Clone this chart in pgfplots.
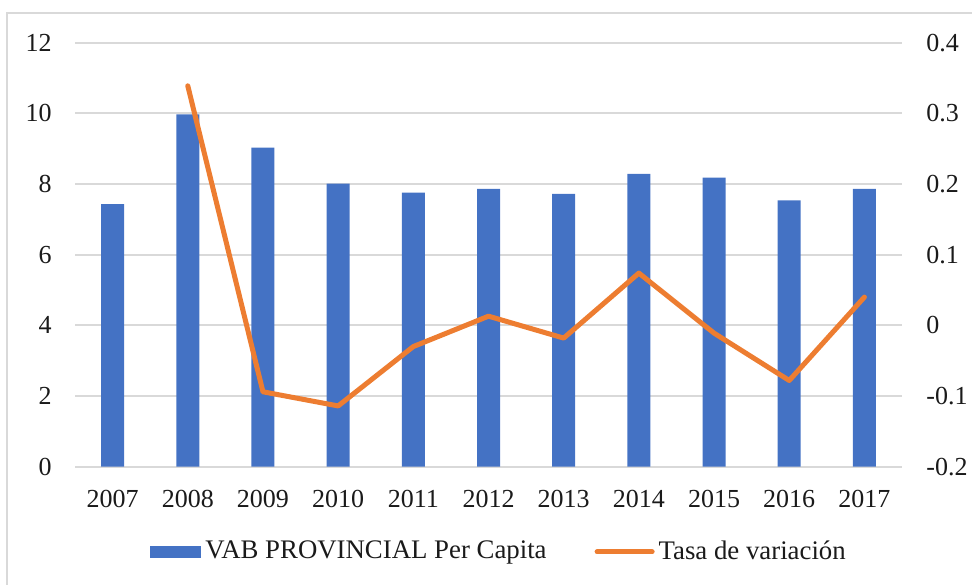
\documentclass[border=0pt]{standalone}
\usepackage{fontspec}
\setmainfont{Liberation Serif}
\usepackage{pgfplots}
\pgfplotsset{compat=1.18}
\definecolor{barblue}{HTML}{4472C4}
\definecolor{lineorange}{HTML}{ED7D31}
\definecolor{gridgray}{HTML}{D9D9D9}
\definecolor{txt}{HTML}{1A1A1A}

\begin{document}
\fontsize{13}{15}\selectfont
\begin{tikzpicture}[x=1pt,y=1pt]
\useasboundingbox (0,0) rectangle (486,292);
\draw[gridgray, line width=1pt] (3.5,-5) -- (3.5,285.5) -- (490,285.5);

\pgfplotsset{
  base/.style={
    at={(37.5pt,58.65pt)}, anchor=south west,
    scale only axis, width=413.5pt, height=212pt,
    xmin=-0.5, xmax=10.5,
    axis line style={draw=none},
    major tick length=0pt,
    tick style={draw=none},
    tick label style={font=\fontsize{13}{15}\selectfont, text=txt},
  }
}

% left axis: bars
\begin{axis}[base,
  ymin=0, ymax=12,
  ytick={0,2,4,6,8,10,12},
  yticklabels={0,2,4,6,8,10,12},
  yticklabel style={xshift=-7.2pt},
  xtick={0,...,10},
  xticklabels={2007,2008,2009,2010,2011,2012,2013,2014,2015,2016,2017},
  xticklabel style={yshift=-7pt},
  ymajorgrids,
  grid style={gridgray, line width=0.9pt},
  legend style={at={(0.514,-0.201)}, anchor=center, draw=none, fill=none,
    legend columns=2, font=\fontsize{13.4}{15}\selectfont, text=txt,
    /tikz/every even column/.append style={column sep=22pt}},
  legend cell align=left,
]
\addplot[ybar, bar width=11.5pt, fill=barblue, draw=none,
  legend image code/.code={\fill[barblue] (0pt,-3pt) rectangle (25.5pt,3pt);}]
  coordinates {(0,7.43) (1,9.97) (2,9.03) (3,8.01) (4,7.76) (5,7.86)
               (6,7.72) (7,8.29) (8,8.18) (9,7.54) (10,7.86)};
\addlegendentry{VAB PROVINCIAL Per Capita}
\addlegendimage{lineorange, line width=2.5pt,
  legend image code/.code={\draw[lineorange, line width=2.5pt, line cap=round] (0pt,0pt) -- (27.5pt,0pt);}}
\addlegendentry{Tasa de variación}
\end{axis}

% right axis: growth rate
\begin{axis}[base,
  ymin=-0.2, ymax=0.4,
  axis y line*=right,
  axis x line=none,
  ytick={-0.2,-0.1,0,0.1,0.2,0.3,0.4},
  yticklabels={-0.2,-0.1,0,0.1,0.2,0.3,0.4},
  yticklabel style={xshift=7.7pt},
]
\addplot[lineorange, line width=2.5pt, line join=round, line cap=round]
  coordinates {(1,0.339) (2,-0.094) (3,-0.114) (4,-0.030) (5,0.013)
               (6,-0.018) (7,0.074) (8,-0.011) (9,-0.078) (10,0.040)};
\end{axis}
\end{tikzpicture}
\end{document}
